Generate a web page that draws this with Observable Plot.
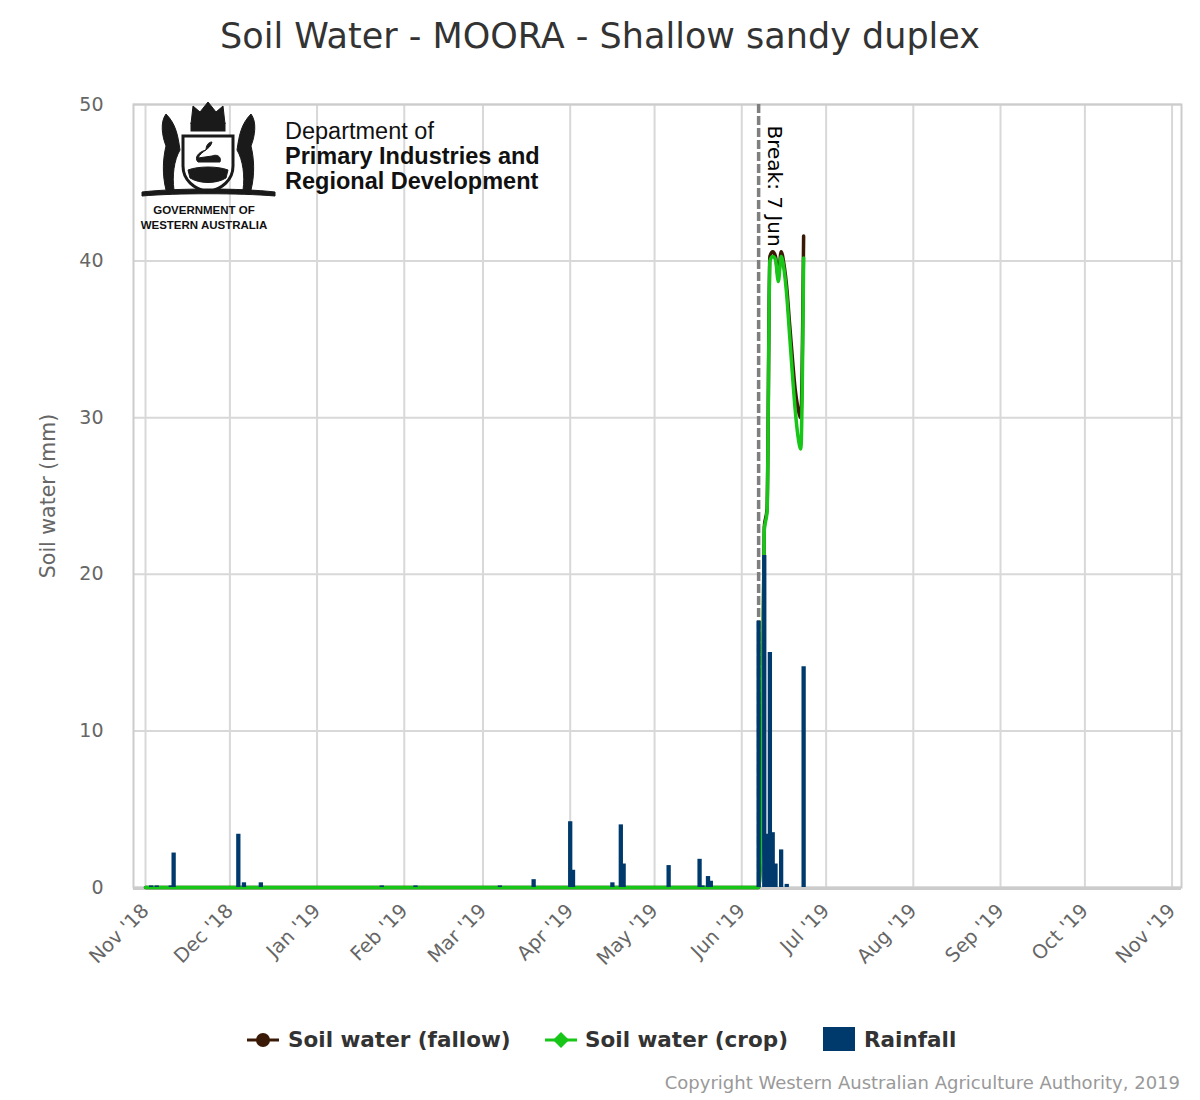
<!DOCTYPE html>
<html>
<head>
<meta charset="utf-8">
<script src="https://cdn.jsdelivr.net/npm/d3@7"></script>
<script src="https://cdn.jsdelivr.net/npm/@observablehq/plot@0.6"></script>
<style>
  body { margin: 0; background: #fff; }
  #wrap { position: relative; width: 1200px; height: 1100px; background: #fff;
          font-family: "DejaVu Sans", sans-serif; }
  .abs { position: absolute; white-space: nowrap; line-height: 1; }
  #title { top: 19px; left: 0; width: 1200px; text-align: center; font-size: 35px; color: #333; }
  #chart { position: absolute; top: 70px; left: 0; }
  .logo { font-family: "Liberation Sans", Arial, sans-serif; color: #111; }
  .leg { font-weight: bold; font-size: 21.5px; color: #333; top: 1029px; }
  #copy { top: 1074px; right: 20px; font-size: 18px; color: #999; }
</style>
</head>
<body>
<div id="wrap">
  <div id="title" class="abs">Soil Water - MOORA - Shallow sandy duplex</div>
  <div id="chart"></div>

  <!-- logo (simplified crest + text) -->
  <svg class="abs" style="left:136px;top:96px" width="145" height="110" viewBox="0 0 145 110">
    <g fill="#1a1a1a" stroke="#1a1a1a">
      <path d="M55 28 L57 10 L64 16 L72 6 L80 16 L87 10 L89 28 Z" />
      <rect x="55" y="27" width="34" height="8" />
      <path d="M30 18 C24 26 26 40 30 50 C27 62 26 78 30 94 L38 94 C36 80 38 64 44 54 C42 40 40 28 30 18 Z" />
      <path d="M115 18 C121 26 119 40 115 50 C118 62 119 78 115 94 L107 94 C109 80 107 64 101 54 C103 40 105 28 115 18 Z" />
      <path d="M47 40 L97 40 L97 70 C97 84 86 93 72 96 C58 93 47 84 47 70 Z" fill="#fff" stroke-width="3"/>
      <path d="M62 62 C66 54 74 54 76 46 C72 46 70 50 70 54 C62 56 58 62 62 66 L84 66 C86 60 80 58 76 60 Z" />
      <path d="M52 74 C62 70 82 70 92 74 L90 82 C80 88 64 88 54 82 Z" />
      <path d="M6 96 C40 92 104 92 139 96 L139 100 C104 97 40 97 6 100 Z" />
    </g>
  </svg>
  <div class="abs logo" style="left:285px;top:120px;font-size:23.5px;">Department of</div>
  <div class="abs logo" style="left:285px;top:145px;font-size:23.5px;font-weight:bold;">Primary Industries and</div>
  <div class="abs logo" style="left:285px;top:170px;font-size:23.5px;font-weight:bold;">Regional Development</div>
  <div class="abs logo" style="left:137px;width:134px;text-align:center;top:205px;font-size:11.5px;font-weight:bold;">GOVERNMENT OF</div>
  <div class="abs logo" style="left:137px;width:134px;text-align:center;top:220px;font-size:11.5px;font-weight:bold;">WESTERN AUSTRALIA</div>

  <!-- legend -->
  <svg class="abs" style="left:245px;top:1030px" width="36" height="20">
    <line x1="2" y1="10" x2="34" y2="10" stroke="#3a1a06" stroke-width="3"/>
    <circle cx="18" cy="10" r="7" fill="#3a1a06"/>
  </svg>
  <div class="abs leg" style="left:288px;">Soil water (fallow)</div>
  <svg class="abs" style="left:543px;top:1030px" width="36" height="20">
    <line x1="2" y1="10" x2="34" y2="10" stroke="#17c617" stroke-width="3"/>
    <path d="M18 2 L26 10 L18 18 L10 10 Z" fill="#17c617"/>
  </svg>
  <div class="abs leg" style="left:585px;">Soil water (crop)</div>
  <svg class="abs" style="left:823px;top:1027px" width="32" height="24">
    <rect x="0" y="0" width="32" height="24" fill="#003a6c"/>
  </svg>
  <div class="abs leg" style="left:864px;">Rainfall</div>

  <div id="copy" class="abs">Copyright Western Australian Agriculture Authority, 2019</div>
</div>

<script>
// ---- data ----
const tickMonths = ["2018-11-01","2018-12-01","2019-01-01","2019-02-01","2019-03-01","2019-04-01",
  "2019-05-01","2019-06-01","2019-07-01","2019-08-01","2019-09-01","2019-10-01","2019-11-01"];
const yTicks = [0, 10, 20, 30, 40, 50];

const rainDates = ["2018-11-03","2018-11-05","2018-11-10","2018-11-11","2018-12-04","2018-12-06",
  "2018-12-12","2019-01-24","2019-02-05","2019-03-07","2019-03-19","2019-04-01","2019-04-02",
  "2019-04-16","2019-04-19","2019-04-20","2019-05-06","2019-05-17","2019-05-18","2019-05-20",
  "2019-05-21","2019-06-07","2019-06-09","2019-06-10","2019-06-11","2019-06-12","2019-06-13",
  "2019-06-15","2019-06-17","2019-06-23"];
const rainValues = [0.1, 0.1, 0.1, 2.2, 3.4, 0.3,
  0.3, 0.1, 0.1, 0.1, 0.5, 4.2, 1.1,
  0.3, 4.0, 1.5, 1.4, 1.8, 0.1, 0.7,
  0.4, 17.0, 21.2, 3.4, 15.0, 3.5, 1.5,
  2.4, 0.2, 14.1];

const soilDates = ["2018-11-01","2019-06-07","2019-06-08","2019-06-09","2019-06-10","2019-06-11",
  "2019-06-12","2019-06-13","2019-06-14","2019-06-15","2019-06-16","2019-06-17","2019-06-18",
  "2019-06-19","2019-06-20","2019-06-21","2019-06-22","2019-06-23"];
const cropValues = [0, 0, 4.7, 22.8, 24.0, 40.0,
  40.3, 40.1, 38.7, 40.3, 39.5, 37.8, 35.3,
  32.8, 30.5, 28.8, 28.0, 40.2];
const fallowValues = [0, 0, 4.7, 23.0, 24.2, 40.3,
  40.6, 40.3, 39.0, 40.6, 39.8, 38.3, 36.0,
  33.8, 31.8, 30.6, 30.0, 41.6];

const breakDate = "2019-06-07";
const breakLabel = "Break: 7 Jun";

// ---- build ----
const parse = d3.utcParse("%Y-%m-%d");
const rain = rainDates.map((d, i) => ({date: parse(d), value: rainValues[i]}));
const crop = soilDates.map((d, i) => ({date: parse(d), value: cropValues[i]}));
const fallow = soilDates.map((d, i) => ({date: parse(d), value: fallowValues[i]}));
const ticks = tickMonths.map(parse);
const brk = parse(breakDate);
const xDomain = [new Date(Date.UTC(2018, 9, 27, 17, 30)), new Date(Date.UTC(2019, 10, 4, 8, 30))];
const fmt = d3.utcFormat("%b '%y");

const chart = Plot.plot({
  width: 1200,
  height: 910,
  marginLeft: 133,
  marginRight: 19,
  marginTop: 34,
  marginBottom: 93,
  style: {fontFamily: "DejaVu Sans, sans-serif", fontSize: "18px", background: "#fff", overflow: "visible"},
  x: {type: "utc", domain: xDomain},
  y: {domain: [0, 50]},
  marks: [
    Plot.gridY(yTicks, {stroke: "#d8d8d8", strokeOpacity: 1, strokeWidth: 2}),
    Plot.gridX(ticks, {stroke: "#d8d8d8", strokeOpacity: 1, strokeWidth: 2}),
    Plot.frame({stroke: "#cccccc", strokeWidth: 2}),
    Plot.ruleY([0], {stroke: "#cccccc", strokeWidth: 3, dy: 1}),
    Plot.axisY(yTicks, {tickSize: 0, tickPadding: 30, fontSize: 19, color: "#666", label: null}),
    Plot.axisX(ticks, {tickSize: 0, tickPadding: 20, tickRotate: -45, tickFormat: fmt, fontSize: 19.5, color: "#666", label: null}),
    Plot.text(["Soil water (mm)"], {frameAnchor: "left", dx: -85, rotate: -90, textAnchor: "middle", fontSize: 20.5, fill: "#666"}),
    Plot.ruleX([brk], {stroke: "#7f7f7f", strokeWidth: 3.5, strokeDasharray: "9,3"}),
    Plot.text([breakLabel], {x: () => brk, y: () => 50, dx: 16, dy: 21, rotate: 90, textAnchor: "start", fontSize: 20, fill: "#000"}),
    Plot.line(fallow, {x: "date", y: "value", stroke: "#3a1a06", strokeWidth: 3.5, curve: "monotone-x"}),
    Plot.line(crop, {x: "date", y: "value", stroke: "#17c617", strokeWidth: 3.5, curve: "monotone-x"}),
    Plot.ruleX(rain, {x: "date", y1: 0, y2: "value", stroke: "#003a6c", strokeWidth: 4.3})
  ]
});
document.getElementById("chart").appendChild(chart);
</script>
</body>
</html>
